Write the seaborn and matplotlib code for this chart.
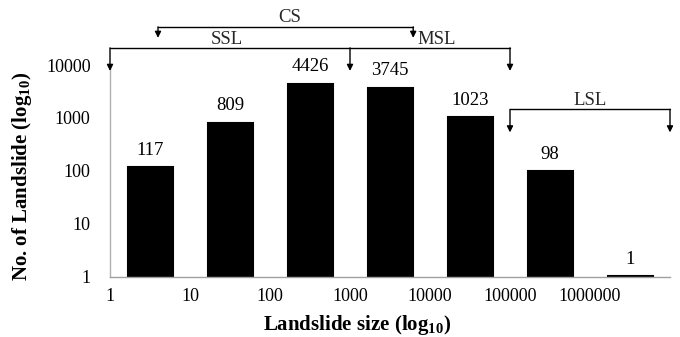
import numpy as np
import pandas as pd
import matplotlib
matplotlib.use("Agg")
import matplotlib.pyplot as plt
import seaborn as sns

# data
size_bins = ["1-10", "10-100", "100-1000", "1000-10000", "10000-100000",
             "100000-1000000", "1000000-10000000"]
counts = [117, 809, 4426, 3745, 1023, 98, 1]
edge_labels = ["1", "10", "100", "1000", "10000", "100000", "1000000"]

# size classes as (label, start, end) in log10(size)
lower_brackets = [("SSL", 0.0, 3.0), ("MSL", 3.0, 5.0)]
cs_bracket = ("CS", 0.6, 3.79)
lsl_bracket = ("LSL", 5.0, 7.0)

sns.set_theme(style="white")
plt.rcParams["font.family"] = ["Liberation Serif", "DejaVu Serif"]
plt.rcParams["mathtext.fontset"] = "custom"
plt.rcParams["mathtext.rm"] = "Liberation Serif"
plt.rcParams["mathtext.bf"] = "Liberation Serif:bold"

df = pd.DataFrame({"size": size_bins, "count": counts})

fig = plt.figure(figsize=(6.8, 3.37), dpi=100)
ax = fig.add_axes([110 / 680, (337 - 277) / 337, 560 / 680, 212 / 337])

sns.barplot(data=df, x="size", y="count", color="black", width=0.5625,
            edgecolor="black", linewidth=1.5, saturation=1, ax=ax)
ax.set_yscale("log")
ax.set_ylim(0.96, 10000)
ax.set_xlim(-0.5, len(size_bins) - 0.5)

ax.set_yticks([1, 10, 100, 1000, 10000], labels=["1", "10", "100", "1000", "10000"])
ax.minorticks_off()
ax.set_xticks(np.arange(len(edge_labels)) - 0.5, labels=edge_labels)
ax.tick_params(axis="y", length=0, pad=14, labelsize=13, labelcolor="black")
ax.tick_params(axis="x", length=0, pad=8, labelsize=13, labelcolor="black")

for side in ["top", "right"]:
    ax.spines[side].set_visible(False)
ax.spines["left"].set_color("#b0b0b0")
ax.spines["bottom"].set_color("#a0a0a0")
ax.spines["left"].set_linewidth(1)
ax.spines["bottom"].set_linewidth(1)

ax.bar_label(ax.containers[0], labels=[str(c) for c in counts], padding=6,
             fontsize=13.5, color="black")

ax.set_xlabel(r"Landslide size (log$_{\mathbf{10}}$)", fontsize=15,
              fontweight="bold", color="black")
ax.set_ylabel(r"No. of Landslide (log$_{\mathbf{10}}$)", fontsize=15,
              fontweight="bold", color="black")
ax.xaxis.set_label_coords(0.441, -0.172)
ax.yaxis.set_label_coords(-0.135, 0.474)

# brackets drawn with x in data units, y in axes fraction
trans = ax.get_xaxis_transform()


def arrow_down(x, y0, y1):
    ax.annotate("", xy=(x, y1), xytext=(x, y0), xycoords=trans,
                textcoords=trans, annotation_clip=False,
                arrowprops=dict(arrowstyle="-|>", color="black", lw=1,
                                shrinkA=0, shrinkB=0, mutation_scale=9))


def bracket(x0, x1, y_line, y_tip, ends):
    ax.plot([x0, x1], [y_line, y_line], color="black", lw=1,
            transform=trans, clip_on=False)
    for x in ends:
        arrow_down(x, y_line, y_tip)


to_x = lambda v: v - 0.5

# SSL / MSL share one line
x_pts = sorted({to_x(b[1]) for b in lower_brackets} | {to_x(b[2]) for b in lower_brackets})
bracket(x_pts[0], x_pts[-1], 1.081, 0.972, x_pts)
ax.text(to_x(1.46), 1.12, "SSL", transform=trans, ha="center", va="center", fontsize=13.5)
ax.text(to_x(4.09), 1.12, "MSL", transform=trans, ha="center", va="center", fontsize=13.5)

name, a, b = cs_bracket
bracket(to_x(a), to_x(b), 1.18, 1.128, [to_x(a), to_x(b)])
ax.text(to_x(2.25), 1.223, name, transform=trans, ha="center", va="center", fontsize=13.5)

name, a, b = lsl_bracket
bracket(to_x(a), to_x(b), 0.791, 0.682, [to_x(a), to_x(b)])
ax.text(to_x(6.0), 0.834, name, transform=trans, ha="center", va="center", fontsize=13.5)

fig.savefig("out.png", dpi=100)
